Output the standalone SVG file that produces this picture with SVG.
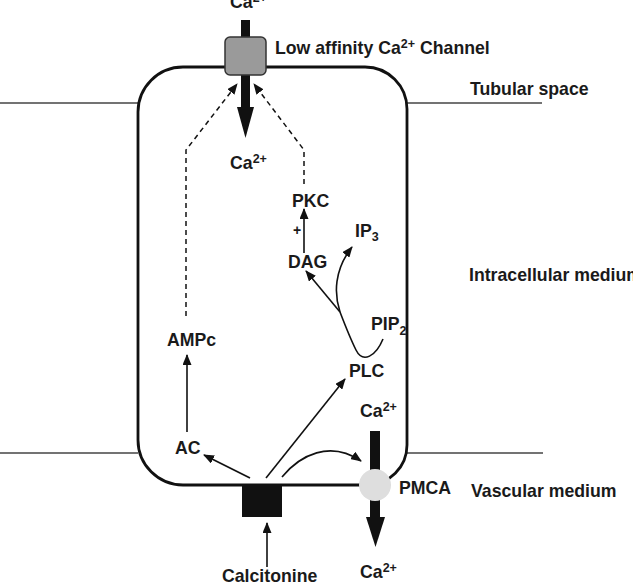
<svg xmlns="http://www.w3.org/2000/svg" width="633" height="588" viewBox="0 0 633 588">
<style>
text{font-family:"Liberation Sans",Arial,sans-serif;font-weight:bold;font-size:17.7px;fill:#1a1a1a}
.sup{font-size:12.5px}
.sub{font-size:12.5px}
.thin{stroke:#444;stroke-width:1.3;fill:none}
.ln{stroke:#111;stroke-width:1.6;fill:none}
.dash{stroke:#111;stroke-width:1.5;fill:none;stroke-dasharray:5 4}
</style>
<defs>
<marker id="ah" markerWidth="11" markerHeight="9" refX="10" refY="4.5" orient="auto" markerUnits="userSpaceOnUse">
<path d="M0,0 L11,4.5 L0,9 Z" fill="#111"/>
</marker>
</defs>
<g id="boundaries">
<line class="thin" x1="0" y1="103" x2="138" y2="103"/>
<line class="thin" x1="407" y1="103" x2="542" y2="103"/>
<line class="thin" x1="0" y1="453" x2="138" y2="453"/>
<line class="thin" x1="407" y1="453" x2="543" y2="453"/>
</g>
<g id="cell">
<path d="M183,67 H365 A42,42 0 0 1 407,109 V445 A40,40 0 0 1 367,485 H183 A45,45 0 0 1 138,440 V112 A45,45 0 0 1 183,67 Z" fill="none" stroke="#111" stroke-width="2.8"/>
</g>
<g id="channel">
<rect x="241" y="20" width="9" height="20" fill="#111"/>
<rect x="241" y="72" width="9" height="38" fill="#111"/>
<polygon points="237,107 254,107 245.5,138" fill="#111"/>
<rect x="225" y="37" width="41" height="38" rx="5" fill="#9a9a9a" stroke="#333" stroke-width="1.5"/>
<text x="230" y="8">Ca<tspan class="sup" dy="-6">2+</tspan></text>
<text x="275" y="54">Low affinity Ca<tspan class="sup" dy="-6">2+</tspan><tspan dy="6"> Channel</tspan></text>
</g>
<g id="pmca">
<rect x="370" y="431" width="10" height="45" fill="#111"/>
<rect x="370" y="495" width="10" height="24" fill="#111"/>
<polygon points="366,517 385,517 375.5,547" fill="#111"/>
<circle cx="375" cy="485" r="16" fill="#dedede"/>
<text x="399" y="494">PMCA</text>
</g>
<g id="receptor">
<rect x="242" y="485" width="40" height="32" fill="#111"/>
</g>
<g id="n-tubular"><text x="470" y="95">Tubular space</text></g>
<g id="n-intra"><text x="469" y="281">Intracellular medium</text></g>
<g id="n-vascular"><text x="471" y="497">Vascular medium</text></g>
<g id="n-ca-in"><text x="230" y="169">Ca<tspan class="sup" dy="-6">2+</tspan></text></g>
<g id="n-pkc"><text x="292" y="207">PKC</text></g>
<g id="n-dag"><text x="288" y="268">DAG</text></g>
<g id="n-ip3"><text x="355" y="237">IP<tspan class="sub" dy="4">3</tspan></text></g>
<g id="n-pip2"><text x="371" y="330">PIP<tspan class="sub" dy="5">2</tspan></text></g>
<g id="n-ampc"><text x="167" y="346">AMPc</text></g>
<g id="n-plc"><text x="349" y="377">PLC</text></g>
<g id="n-ac"><text x="175" y="454">AC</text></g>
<g id="n-ca-pm"><text x="360" y="417">Ca<tspan class="sup" dy="-6">2+</tspan></text></g>
<g id="n-ca-out"><text x="360" y="578">Ca<tspan class="sup" dy="-6">2+</tspan></text></g>
<g id="n-calcitonine"><text x="222" y="582">Calcitonine</text></g>
<g id="connectors">
<path class="dash" d="M186,316 V150 L237,84" marker-end="url(#ah)"/>
<path class="dash" d="M304,184 V150 L254,84" marker-end="url(#ah)"/>
<line class="ln" x1="304" y1="253" x2="304" y2="209" marker-end="url(#ah)"/>
<text x="293" y="235" style="font-size:14px">+</text>
<path class="ln" d="M383,339 C376,356 363,364 356,350 C350,338 345,325 340,312"/>
<line class="ln" x1="340" y1="312" x2="306" y2="271" marker-end="url(#ah)"/>
<path class="ln" d="M340,312 C334,294 334,270 352,247" marker-end="url(#ah)"/>
<line class="ln" x1="187" y1="432" x2="187" y2="355" marker-end="url(#ah)"/>
<line class="ln" x1="250" y1="478" x2="204" y2="455" marker-end="url(#ah)"/>
<line class="ln" x1="266" y1="478" x2="345" y2="379" marker-end="url(#ah)"/>
<path class="ln" d="M282,477 C300,455 330,440 361,461" marker-end="url(#ah)"/>
<line class="ln" x1="267" y1="567" x2="267" y2="523" marker-end="url(#ah)"/>
</g>
</svg>
